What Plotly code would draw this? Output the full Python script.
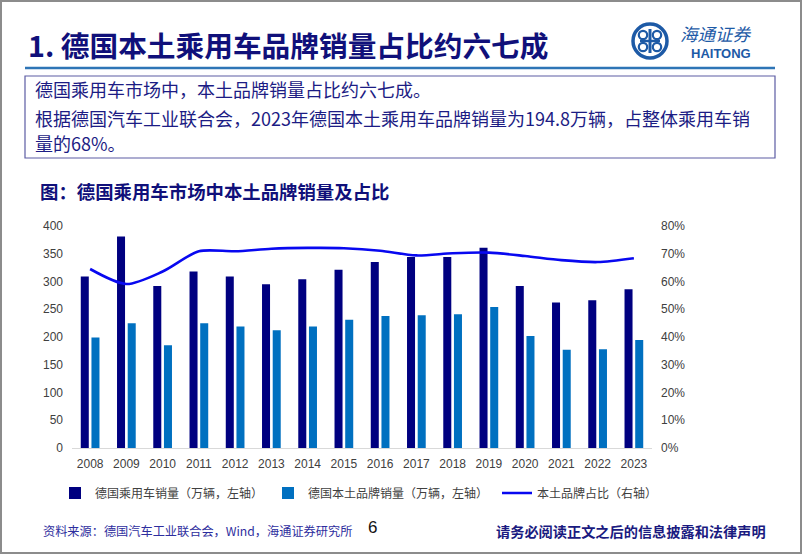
import plotly.graph_objects as go

# ---------------- data ----------------
years = [str(y) for y in range(2008, 2024)]
total_sales = [309, 381, 292, 318, 309, 295, 304, 321, 335, 344, 344, 361, 292, 262, 266, 286]
local_sales = [199, 225, 185, 225, 219, 212, 219, 231, 238, 239, 241, 254, 202, 177, 178, 194.8]
local_share = [0.645, 0.591, 0.636, 0.709, 0.709, 0.718, 0.721, 0.720, 0.711, 0.694, 0.702, 0.704, 0.692, 0.677, 0.670, 0.684]

name_total = "德国乘用车销量（万辆，左轴）"
name_local = "德国本土品牌销量（万辆，左轴）"
name_share = "本土品牌占比（右轴）"

# ---------------- geometry helpers (pixel -> paper) ----------------
FW, FH = 802, 554
L, T = 72, 226
W, H = 580, 222
B = T + H


def xp(px):
    return (px - L) / W


def yp(py):
    return (B - py) / H


CJK = "Noto Sans CJK SC, Noto Sans, sans-serif"
ARIAL = "Liberation Sans, Arial, sans-serif"
NAVY = "#10107a"

fig = go.Figure()

fig.add_trace(go.Bar(
    x=years, y=total_sales, name=name_total,
    marker=dict(color="#000080", line=dict(width=0)),
    legend="legend",
))
fig.add_trace(go.Bar(
    x=years, y=local_sales, name=name_local,
    marker=dict(color="#0070c0", line=dict(width=0)),
    legend="legend2",
))
fig.add_trace(go.Scatter(
    x=years, y=local_share, name=name_share, yaxis="y2",
    mode="lines", line=dict(color="#0808f0", width=2.6, shape="spline", smoothing=0.8),
    legend="legend3",
))

legend_common = dict(
    orientation="h", xanchor="left", yanchor="middle",
    bgcolor="rgba(0,0,0,0)", borderwidth=0,
    font=dict(family=CJK, size=12, color="#404040"),
    itemwidth=30,
)

fig.update_layout(
    width=FW, height=FH, autosize=False,
    margin=dict(l=L, r=FW - L - W, t=T, b=FH - B, pad=0),
    paper_bgcolor="white", plot_bgcolor="white",
    barmode="group", bargap=0.41, bargroupgap=0.25,
    xaxis=dict(
        type="category", showgrid=False, zeroline=False,
        showline=True, linecolor="#d9d9d9", linewidth=1,
        ticks="", ticklabelstandoff=5, tickfont=dict(family=ARIAL, size=12, color="#404040"),
        automargin=False, fixedrange=True,
    ),
    yaxis=dict(
        range=[0, 400], dtick=50, showgrid=False, zeroline=False,
        showline=False, ticks="", ticklabelstandoff=8, automargin=False,
        tickfont=dict(family=ARIAL, size=12, color="#404040"),
    ),
    yaxis2=dict(
        range=[0, 0.8], dtick=0.1, tickformat=".0%", overlaying="y", side="right",
        showgrid=False, zeroline=False, showline=False, ticks="", ticklabelstandoff=8,
        automargin=False,
        tickfont=dict(family=ARIAL, size=12, color="#404040"),
    ),
    legend=dict(legend_common, x=xp(55), y=yp(493)),
    legend2=dict(legend_common, x=xp(268), y=yp(493)),
    legend3=dict(legend_common, x=xp(497), y=yp(493)),
    showlegend=True,
)

shapes = []
# outer grey frame
shapes.append(dict(type="rect", xref="paper", yref="paper",
                   x0=xp(1), x1=xp(801), y0=yp(1), y1=yp(553),
                   line=dict(color="#8c8c8c", width=2), layer="above"))
# blue rule under title
shapes.append(dict(type="line", xref="paper", yref="paper",
                   x0=xp(25), x1=xp(775), y0=yp(68), y1=yp(68),
                   line=dict(color="#2e75b6", width=2.5)))
# text box
shapes.append(dict(type="rect", xref="paper", yref="paper",
                   x0=xp(25), x1=xp(775), y0=yp(158), y1=yp(76),
                   line=dict(color="#5c5ca3", width=1.2)))
# logo emblem
LOGO = "#1d5aa6"
cx, cy, r = 650, 41, 17
shapes.append(dict(type="circle", xref="paper", yref="paper",
                   x0=xp(cx - r), x1=xp(cx + r), y0=yp(cy + r), y1=yp(cy - r),
                   line=dict(color=LOGO, width=3.5)))
shapes.append(dict(type="line", xref="paper", yref="paper",
                   x0=xp(cx), x1=xp(cx), y0=yp(cy + 12), y1=yp(cy - 12),
                   line=dict(color=LOGO, width=3)))
shapes.append(dict(type="line", xref="paper", yref="paper",
                   x0=xp(cx - 10), x1=xp(cx + 10), y0=yp(cy), y1=yp(cy),
                   line=dict(color=LOGO, width=2.5)))
for dx, dy in [(-7, -6), (7, -6), (-7, 6), (7, 6)]:
    rr = 4.2
    shapes.append(dict(type="circle", xref="paper", yref="paper",
                       x0=xp(cx + dx - rr), x1=xp(cx + dx + rr),
                       y0=yp(cy + dy + rr), y1=yp(cy + dy - rr),
                       line=dict(color=LOGO, width=2.2)))
fig.update_layout(shapes=shapes)

ann = []


def add_text(text, x, y, size, color, family=CJK, weight="normal", xanchor="left", style="normal"):
    ann.append(dict(text=text, xref="paper", yref="paper", x=xp(x), y=yp(y),
                    xanchor=xanchor, yanchor="middle", showarrow=False, borderpad=0,
                    font=dict(family=family, size=size, color=color, weight=weight, style=style)))


add_text("1. 德国本土乘用车品牌销量占比约六七成", 27, 45, 28.7, NAVY, weight="bold")
add_text("海通证券", 679, 33, 17.5, LOGO, style="italic")
add_text("HAITONG", 721, 54, 13, LOGO, family=ARIAL, weight="bold", xanchor="center")
add_text("德国乘用车市场中，本土品牌销量占比约六七成。", 34, 89, 18, "#1c1c84")
add_text("根据德国汽车工业联合会，2023年德国本土乘用车品牌销量为194.8万辆，占整体乘用车销", 34, 118, 18, "#1c1c84")
add_text("量的68%。", 34, 143, 18, "#1c1c84")
add_text("图：德国乘用车市场中本土品牌销量及占比", 39, 191, 18.4, NAVY, weight="bold")
add_text("资料来源：德国汽车工业联合会，Wind，海通证券研究所", 42, 531, 12.2, "#2e2e9e")
add_text("6", 372, 527, 17, "#111111", family=ARIAL, xanchor="center")
add_text("请务必阅读正文之后的信息披露和法律声明", 495, 531, 14.2, "#1a1a80", weight="bold")
fig.update_layout(annotations=ann)

fig.write_html(
    "out.html",
    config={"displayModeBar": False},
    post_script="document.body.style.margin='0px';document.body.style.overflow='hidden';",
)
